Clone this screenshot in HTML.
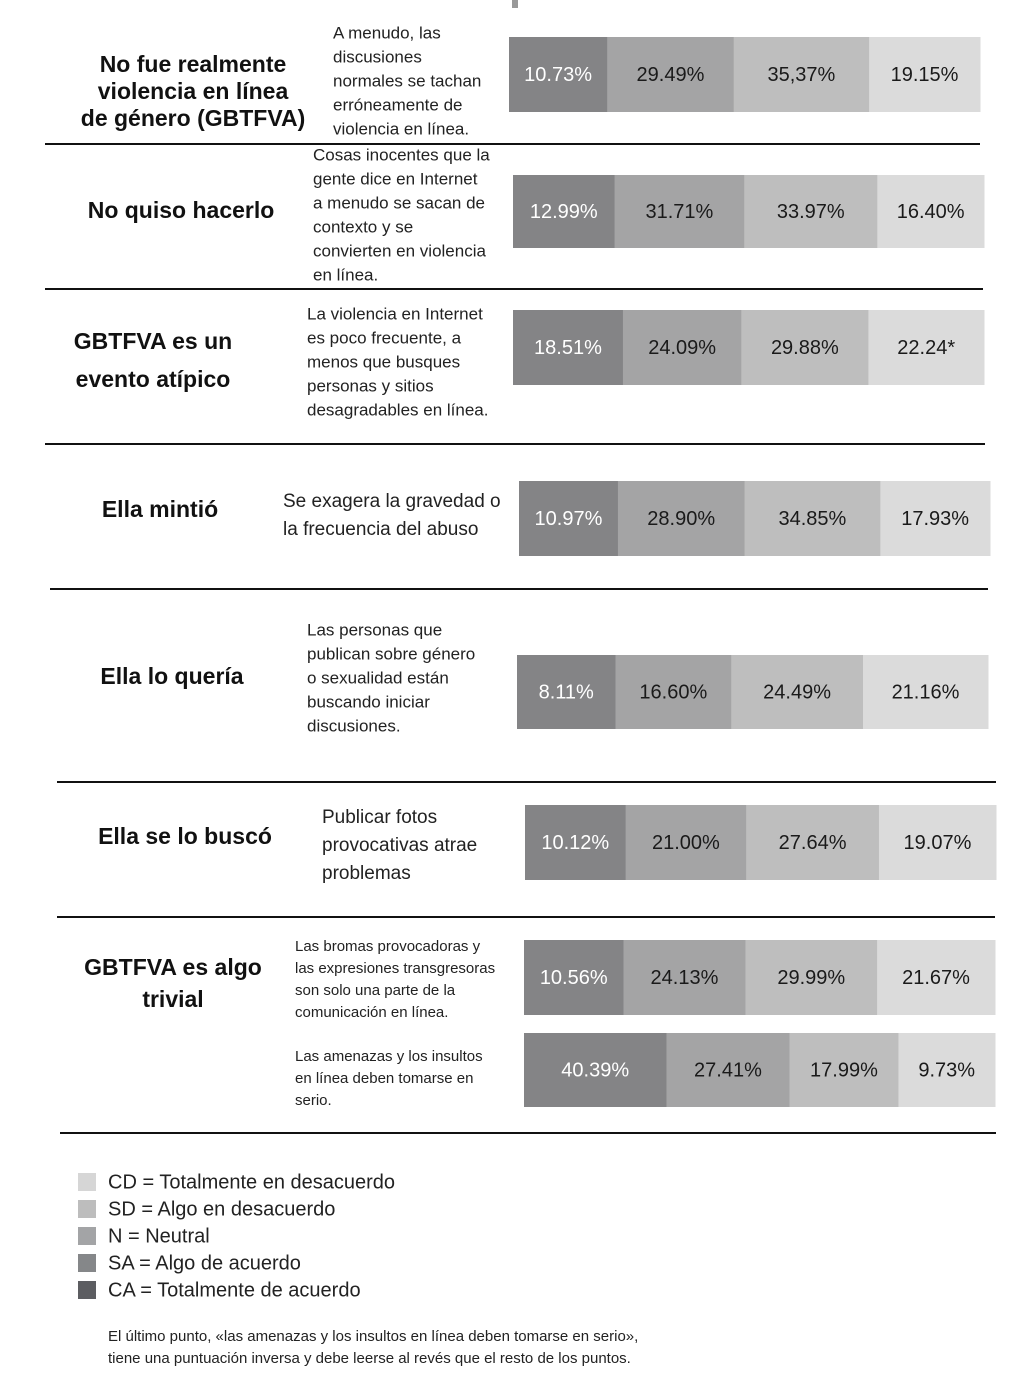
<!DOCTYPE html>
<html><head><meta charset="utf-8"><style>
html,body{margin:0;padding:0;background:#fff}
svg{display:block;font-family:"Liberation Sans",sans-serif}
</style></head><body>
<svg id="chart" width="1021" height="1387" viewBox="0 0 1021 1387" xmlns="http://www.w3.org/2000/svg">
<rect x="0" y="0" width="1021" height="1387" fill="#fff"/>
<rect x="512" y="0" width="6" height="8" fill="#999"/>
</svg>
<script>
const categories = ["No fue realmente violencia en línea de género (GBTFVA)","No quiso hacerlo","GBTFVA es un evento atípico","Ella mintió","Ella lo quería","Ella se lo buscó","GBTFVA es algo trivial","GBTFVA es algo trivial (inverso)"];
const seriesCA = [10.73,12.99,18.51,10.97,8.11,10.12,10.56,40.39];
const seriesSA = [29.49,31.71,24.09,28.90,16.60,21.00,24.13,27.41];
const seriesN  = [35.37,33.97,29.88,34.85,24.49,27.64,29.99,17.99];
const seriesSD = [19.15,16.40,22.24,17.93,21.16,19.07,21.67,9.73];
const valueLabels = [
 ["10.73%","29.49%","35,37%","19.15%"],["12.99%","31.71%","33.97%","16.40%"],
 ["18.51%","24.09%","29.88%","22.24*"],["10.97%","28.90%","34.85%","17.93%"],
 ["8.11%","16.60%","24.49%","21.16%"],["10.12%","21.00%","27.64%","19.07%"],
 ["10.56%","24.13%","29.99%","21.67%"],["40.39%","27.41%","17.99%","9.73%"]];

const NS="http://www.w3.org/2000/svg";
const svg=document.getElementById('chart');
function mk(tag,attrs,txt){const e=document.createElementNS(NS,tag);for(const k in attrs)e.setAttribute(k,attrs[k]);if(txt!==undefined)e.textContent=txt;svg.appendChild(e);return e;}

const layout=[
 {x:509,y:37,h:75,title:["No fue realmente","violencia en línea","de género (GBTFVA)"],tx:193,ty:66,tl:27,desc:["A menudo, las","discusiones","normales se tachan","erróneamente de","violencia en línea."],dx:333,dy:34,dl:24,ds:17},
 {x:513,y:175,h:73,title:["No quiso hacerlo"],tx:181,ty:212,tl:30,desc:["Cosas inocentes que la","gente dice en Internet","a menudo se sacan de","contexto y se","convierten en violencia","en línea."],dx:313,dy:156,dl:24,ds:17},
 {x:513,y:310,h:75,title:["GBTFVA es un","evento atípico"],tx:153,ty:343,tl:38,desc:["La violencia en Internet","es poco frecuente, a","menos que busques","personas y sitios","desagradables en línea."],dx:307,dy:315,dl:24,ds:17},
 {x:519,y:481,h:75,title:["Ella mintió"],tx:160,ty:511,tl:30,desc:["Se exagera la gravedad o","la frecuencia del abuso"],dx:283,dy:502,dl:28,ds:19},
 {x:517,y:655,h:74,title:["Ella lo quería"],tx:172,ty:678,tl:30,desc:["Las personas que","publican sobre género","o sexualidad están","buscando iniciar","discusiones."],dx:307,dy:631,dl:24,ds:17},
 {x:525,y:805,h:75,title:["Ella se lo buscó"],tx:185,ty:838,tl:30,desc:["Publicar fotos","provocativas atrae","problemas"],dx:322,dy:818,dl:28,ds:19},
 {x:524,y:940,h:75,title:["GBTFVA es algo","trivial"],tx:173,ty:969,tl:32,desc:["Las bromas provocadoras y","las expresiones transgresoras","son solo una parte de la","comunicación en línea."],dx:295,dy:947,dl:22,ds:15},
 {x:524,y:1033,h:74,title:[],tx:0,ty:0,tl:0,desc:["Las amenazas y los insultos","en línea deben tomarse en","serio."],dx:295,dy:1057,dl:22,ds:15}
];
const BAR_W=471, MIN_W=82;
const fills=["#848486","#a4a4a5","#bebebe","#dbdbdb"];
const textFills=["#fff","#1a1a1a","#1a1a1a","#1a1a1a"];
const segNames=["ca","sa","n","sd"];
function xScale(vals){const tot=vals.reduce((a,b)=>a+b,0);const k=(BAR_W-4*MIN_W)/tot;return v=>MIN_W+k*v;}

for(let i=0;i<categories.length;i++){
 const L=layout[i];
 const vals=[seriesCA[i],seriesSA[i],seriesN[i],seriesSD[i]];
 const w=xScale(vals);
 let x=L.x;
 for(let j=0;j<4;j++){
  const ww=w(vals[j]);
  const r=mk('rect',{x:x,y:L.y,width:ww+0.5,height:L.h,fill:fills[j]});
  
  
  const t=mk('text',{x:x+ww/2,y:L.y+L.h/2+1,'text-anchor':'middle','dominant-baseline':'middle','font-size':20,fill:textFills[j]},valueLabels[i][j]);
  
  
  x+=ww;
 }
 L.title.forEach((s,k)=>{
  const t=mk('text',{x:L.tx,y:L.ty+k*L.tl,'text-anchor':'middle','dominant-baseline':'middle','font-size':23,'font-weight':'bold',fill:'#111'},s);
  
  
 });
 L.desc.forEach((s,k)=>{
  const t=mk('text',{x:L.dx,y:L.dy+k*L.dl,'dominant-baseline':'middle','font-size':L.ds,fill:'#222'},s);
  
  
 });
}
const seps=[[45,980,144],[45,983,289],[45,985,444],[50,988,589],[57,996,782],[57,995,917],[60,996,1133]];
seps.forEach((s,k)=>{
 const l=mk('line',{x1:s[0],x2:s[1],y1:s[2],y2:s[2],stroke:'#111','stroke-width':2});
 
 
});
const legendLabels=["CD = Totalmente en desacuerdo","SD = Algo en desacuerdo","N = Neutral","SA = Algo de acuerdo","CA = Totalmente de acuerdo"];
const legendColors=["#d6d6d6","#bdbdbd","#a3a4a6","#858789","#5c5d61"];
legendLabels.forEach((s,k)=>{
 const y=1182+k*27;
 const r=mk('rect',{x:78,y:y-9,width:18,height:18,fill:legendColors[k]});
 
 
 const t=mk('text',{x:108,y:y+1,'dominant-baseline':'middle','font-size':20,fill:'#222'},s);
 
 
});
["El último punto, «las amenazas y los insultos en línea deben tomarse en serio»,","tiene una puntuación inversa y debe leerse al revés que el resto de los puntos."].forEach((s,k)=>{
 const t=mk('text',{x:108,y:1337+k*22,'dominant-baseline':'middle','font-size':15,fill:'#222'},s);
 
 
});
</script>
</body></html>
